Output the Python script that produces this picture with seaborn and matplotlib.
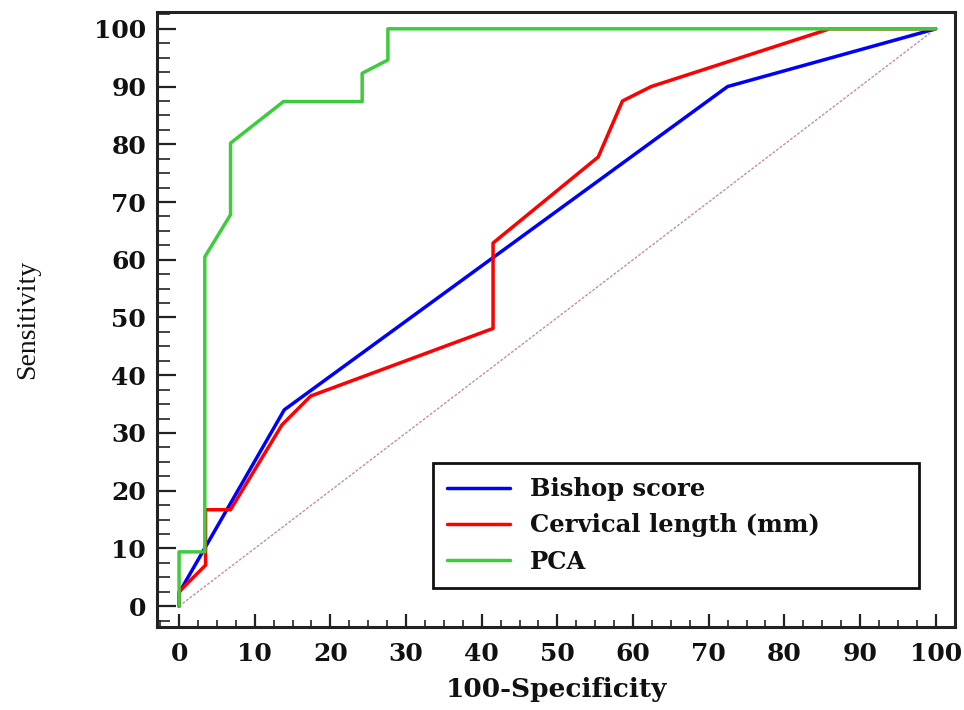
import numpy as np
import pandas as pd
import matplotlib
matplotlib.use("Agg")
import matplotlib.pyplot as plt
import seaborn as sns
from matplotlib.ticker import MultipleLocator

# ---- data ----
series_names = ["Bishop score", "Cervical length (mm)", "PCA"]

bishop_x = [0, 0, 13.9, 72.5, 100]
bishop_y = [0, 2.3, 34.0, 90.0, 100]

cervical_x = [0, 0, 3.5, 3.5, 6.8, 13.6, 17.4, 41.5, 41.5, 55.4, 58.6, 62.4, 86.0, 100]
cervical_y = [0, 2.5, 7.1, 16.7, 16.7, 31.4, 36.4, 48.1, 62.9, 77.8, 87.5, 90.0, 100, 100]

pca_x = [0, 0, 3.4, 3.4, 6.8, 6.8, 13.8, 24.2, 24.2, 27.6, 27.6, 100]
pca_y = [0, 9.4, 9.4, 60.5, 67.8, 80.2, 87.4, 87.4, 92.3, 94.6, 100, 100]

diag_x = [0, 100]
diag_y = [0, 100]

x_ticks = list(range(0, 101, 10))
y_ticks = list(range(0, 101, 10))

colors = {"Bishop score": "#0000ff", "Cervical length (mm)": "#ff0000", "PCA": "#3ccc3c"}

frames = []
for name, xs, ys in zip(series_names, [bishop_x, cervical_x, pca_x], [bishop_y, cervical_y, pca_y]):
    frames.append(pd.DataFrame({"x": xs, "y": ys, "series": name, "order": range(len(xs))}))
df = pd.concat(frames, ignore_index=True)

sns.set_theme(style="white")
plt.rcParams["font.family"] = ["DejaVu Serif"]

fig = plt.figure(figsize=(9.64, 7.10), dpi=100)
ax = fig.add_axes([0.163, 0.117, 0.828, 0.866])

# diagonal reference line
ax.plot(diag_x, diag_y, color="#c89090", lw=1.0, ls=(0, (2, 1.2)), zorder=1)

sns.lineplot(data=df, x="x", y="y", hue="series", hue_order=series_names,
             palette=colors, sort=False, estimator=None, units=None,
             linewidth=2.5, ax=ax, zorder=3)

ax.set_xlim(-2.9, 102.6)
ax.set_ylim(-3.6, 102.9)
ax.set_xticks(x_ticks)
ax.set_yticks(y_ticks)
ax.xaxis.set_minor_locator(MultipleLocator(2.5))
ax.yaxis.set_minor_locator(MultipleLocator(2.5))

ax.tick_params(axis="x", which="major", direction="in", length=9.5, width=1.6,
               color="#222222", bottom=True, top=False, pad=11)
ax.tick_params(axis="x", which="minor", direction="in", length=5, width=1.2,
               color="#222222", bottom=True, top=False)
ax.tick_params(axis="y", which="major", direction="in", length=14, width=1.6,
               color="#222222", left=True, right=False, pad=8)
ax.tick_params(axis="y", which="minor", direction="in", length=9.5, width=1.2,
               color="#222222", left=True, right=False)

for lab in ax.get_xticklabels() + ax.get_yticklabels():
    lab.set_fontsize(18)
    lab.set_fontweight("bold")
    lab.set_color("#111111")

for sp in ax.spines.values():
    sp.set_visible(True)
    sp.set_color("#222222")
    sp.set_linewidth(2.2)

ax.set_xlabel("100-Specificity", fontsize=19, fontweight="bold", color="#111111",
              family="DejaVu Serif")
ax.set_ylabel("Sensitivity", fontsize=20, color="#111111", family="Liberation Serif")
ax.xaxis.set_label_coords(0.5, -0.082)
ax.yaxis.set_label_coords(-0.147, 0.5)

handles, labels = ax.get_legend_handles_labels()
leg = ax.legend(handles, labels, loc="lower left",
                bbox_to_anchor=(0.345, 0.063, 0.609, 0.2), mode="expand",
                prop={"family": "DejaVu Serif", "weight": "bold", "size": 17.5},
                handlelength=2.6, handletextpad=0.8, labelspacing=0.5,
                borderpad=0.6, borderaxespad=0, fancybox=False, frameon=True,
                framealpha=1)
leg.get_frame().set_edgecolor("#111111")
leg.get_frame().set_linewidth(2.0)
for t in leg.get_texts():
    t.set_color("#111111")
for h in leg.get_lines():
    h.set_linewidth(2.5)

fig.savefig("out.png", dpi=100)
